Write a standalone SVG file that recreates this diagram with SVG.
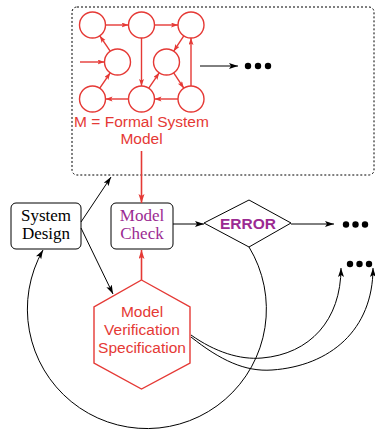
<svg xmlns="http://www.w3.org/2000/svg" width="375" height="430" viewBox="0 0 375 430">
<style>
.blk{fill:none;stroke:#000;stroke-width:1}
.red{fill:none;stroke:#e53935;stroke-width:1.4}
.node{fill:#fff;stroke:#000;stroke-width:1}
.serif{font-family:"Liberation Serif","Times New Roman",serif;font-size:17px;text-anchor:middle}
.sans{font-family:"Liberation Sans",Arial,sans-serif;text-anchor:middle}
.rtxt{fill:#e53935;font-size:15.5px}
.ptxt{fill:#9b2a92}
.dot{fill:#000}
</style>
<defs>
<marker id="ab" markerUnits="userSpaceOnUse" markerWidth="10" markerHeight="7" refX="9" refY="3" orient="auto">
<path d="M0,0 L9,3 L0,6 L2,3 z" fill="#000"/>
</marker>
<marker id="ar" markerUnits="userSpaceOnUse" markerWidth="10" markerHeight="7" refX="9" refY="3" orient="auto">
<path d="M0,0 L9,3 L0,6 L2,3 z" fill="#e53935"/>
</marker>
<marker id="ars" markerUnits="userSpaceOnUse" markerWidth="8" markerHeight="6" refX="7" refY="2.5" orient="auto">
<path d="M0,0 L7,2.5 L0,5 L1.5,2.5 z" fill="#e53935"/>
</marker>
</defs>

<g id="model-box">
<rect x="72" y="7" width="302" height="168" rx="5" fill="none" stroke="#000" stroke-width="1" stroke-dasharray="2 2"/>
<g id="fsm" class="red">
<circle cx="92.5" cy="25" r="13"/>
<circle cx="141.5" cy="25" r="13"/>
<circle cx="191" cy="25" r="13"/>
<circle cx="117.5" cy="62" r="13"/>
<circle cx="166.5" cy="62" r="13"/>
<circle cx="92.5" cy="99" r="13"/>
<circle cx="141.5" cy="99" r="13"/>
<circle cx="191" cy="99" r="13"/>
<g marker-end="url(#ars)">
<line x1="105.5" y1="25" x2="128.5" y2="25"/>
<line x1="154.5" y1="25" x2="178" y2="25"/>
<line x1="110.2" y1="51.2" x2="99.8" y2="35.8"/>
<line x1="80" y1="62" x2="104.5" y2="62"/>
<line x1="141.5" y1="38" x2="141.5" y2="86"/>
<line x1="183.8" y1="35.8" x2="173.7" y2="51.2"/>
<line x1="191" y1="86" x2="191" y2="38"/>
<line x1="173.7" y1="72.8" x2="183.8" y2="88.2"/>
<line x1="148.8" y1="88.2" x2="159.2" y2="72.8"/>
<line x1="178" y1="99" x2="154.5" y2="99"/>
<line x1="128.5" y1="99" x2="105.5" y2="99"/>
<line x1="99.8" y1="88.2" x2="110.2" y2="72.8"/>
</g>
</g>
<text class="sans rtxt" x="141.5" y="127">M = Formal System</text>
<text class="sans rtxt" x="141.5" y="144">Model</text>
<circle class="dot" cx="248" cy="66" r="3.2"/>
<circle class="dot" cx="258" cy="66" r="3.2"/>
<circle class="dot" cx="268" cy="66" r="3.2"/>
</g>

<g id="system-design">
<rect class="node" x="11" y="203" width="70" height="46" rx="5"/>
<text class="serif" x="46" y="221">System</text>
<text class="serif" x="46" y="239">Design</text>
</g>

<g id="model-check">
<rect class="node" x="111" y="203" width="62" height="46" rx="5"/>
<text class="serif ptxt" x="142" y="221">Model</text>
<text class="serif ptxt" x="142" y="239">Check</text>
</g>

<g id="error">
<polygon points="204,223 249,200 291,223 249,247" fill="#fff" stroke="#000" stroke-width="1"/>
<text class="sans ptxt" x="248" y="229" font-size="15.5" font-weight="bold">ERROR</text>
</g>

<g id="spec">
<polygon points="141.5,280 190,307 190,363 141.5,389 94,363 94,307" fill="#fff" stroke="#e53935" stroke-width="1.4"/>
<text class="sans rtxt" x="142" y="317" font-size="16">Model</text>
<text class="sans rtxt" x="142" y="335" font-size="16">Verification</text>
<text class="sans rtxt" x="142" y="353" font-size="16">Specification</text>
</g>

<g id="dots">
<circle class="dot" cx="346" cy="224.5" r="3.2"/>
<circle class="dot" cx="355.5" cy="224.5" r="3.2"/>
<circle class="dot" cx="365" cy="224.5" r="3.2"/>
<circle class="dot" cx="350" cy="264" r="3.2"/>
<circle class="dot" cx="359.5" cy="264" r="3.2"/>
<circle class="dot" cx="369" cy="264" r="3.2"/>
</g>

<g id="connectors">
<line class="blk" x1="200" y1="66" x2="238" y2="66" marker-end="url(#ab)"/>
<line x1="141.5" y1="151" x2="141.5" y2="203" stroke="#e53935" stroke-width="1.6" marker-end="url(#ar)"/>
<line x1="141.5" y1="280" x2="141.5" y2="250" stroke="#e53935" stroke-width="1.6" marker-end="url(#ar)"/>
<line class="blk" x1="81" y1="222" x2="111" y2="177" marker-end="url(#ab)"/>
<line class="blk" x1="81" y1="228" x2="113" y2="294" marker-end="url(#ab)"/>
<line class="blk" x1="173" y1="224" x2="204" y2="224" marker-end="url(#ab)"/>
<line class="blk" x1="291" y1="224" x2="334" y2="224" marker-end="url(#ab)"/>
<path class="blk" d="M249,247 A119.5,119.5 0 1 1 43,250" marker-end="url(#ab)"/>
<path class="blk" d="M191,335 C215,352 240,360 262,358 C310,354 341,320 341,268" marker-end="url(#ab)"/>
<path class="blk" d="M191,337 C220,360 245,372 272,370 C330,366 373,330 373,268" marker-end="url(#ab)"/>
</g>
</svg>
